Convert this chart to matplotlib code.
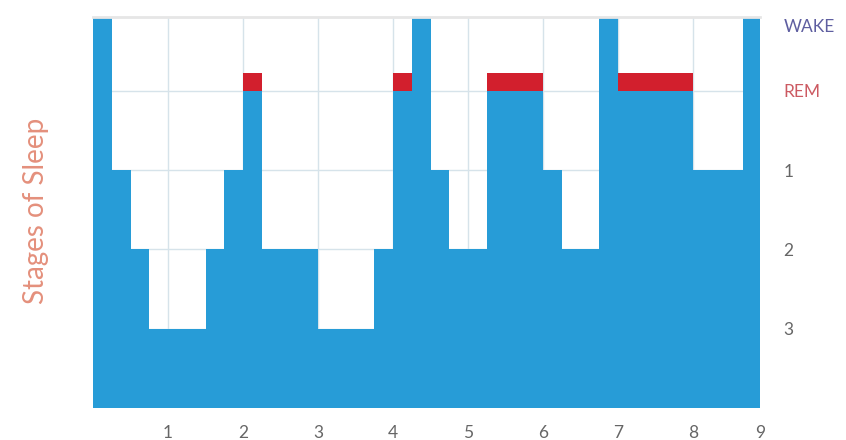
import matplotlib.pyplot as plt
import numpy as np

# stage boundaries (hours) and the stage held until the next boundary
times = [0, 0.25, 0.5, 0.75, 1.5, 1.75, 2.0, 2.25, 3.0, 3.75, 4.0, 4.25,
         4.5, 4.75, 5.25, 6.0, 6.25, 6.75, 7.0, 8.0, 8.67, 8.89]
stages = ['WAKE', '1', '2', '3', '2', '1', 'REM', '2', '3', '2', 'REM', 'WAKE',
          '1', '2', 'REM', '1', '2', 'WAKE', 'REM', '1', 'WAKE']

stage_levels = {'3': 1, '2': 2, '1': 3, 'REM': 4, 'WAKE': 5}
y_ticks = [1, 2, 3, 4, 4.82]
y_labels = ['3', '2', '1', 'REM', 'WAKE']
x_ticks = [1, 2, 3, 4, 5, 6, 7, 8, 8.89]
x_labels = ['1', '2', '3', '4', '5', '6', '7', '8', '9']

blue = '#279cd7'
red = '#d21f2d'
grid_c = '#d6e3ea'

plt.rcParams['font.family'] = ['Lato', 'DejaVu Sans']

fig = plt.figure(figsize=(8.46, 4.4), dpi=100)
ax = fig.add_axes([0.110, 0.073, 0.788, 0.888])

t = np.array(times)
widths = np.diff(t)
heights = [stage_levels[s] for s in stages]
ax.bar(t[:-1], heights, width=widths, align='edge', color=blue, linewidth=0, zorder=2)

# REM caps
rem = [i for i, s in enumerate(stages) if s == 'REM']
ax.bar(t[rem], 0.23, width=widths[rem], bottom=stage_levels['REM'], align='edge',
       color=red, linewidth=0, zorder=3)

ax.set_xlim(0, 8.89)
ax.set_ylim(0, 4.93)

ax.set_xticks(x_ticks)
ax.set_xticklabels(x_labels)
ax.set_yticks(y_ticks)
ax.set_yticklabels(y_labels)
ax.yaxis.tick_right()
ax.tick_params(axis='both', length=0, labelsize=12.5, labelcolor='#666666')
ax.tick_params(axis='x', pad=12)
ax.tick_params(axis='y', pad=17)
lbl = ax.get_yticklabels()
lbl[3].set_color('#cc5a62')
lbl[4].set_color('#5e5ea0')

# grid
for x in range(1, 9):
    ax.axvline(x, color=grid_c, linewidth=1, zorder=1)
for y in [1, 2, 3, 4]:
    ax.axhline(y, color=grid_c, linewidth=1, zorder=1)

for side in ['left', 'right', 'bottom']:
    ax.spines[side].set_visible(False)
ax.spines['top'].set_color('#e6e6e6')
ax.spines['top'].set_linewidth(2)

fig.text(0.042, 0.52, 'Stages of Sleep', rotation=90, ha='center', va='center',
         fontsize=20, color='#e4907c')

fig.savefig('out.png', dpi=100)
